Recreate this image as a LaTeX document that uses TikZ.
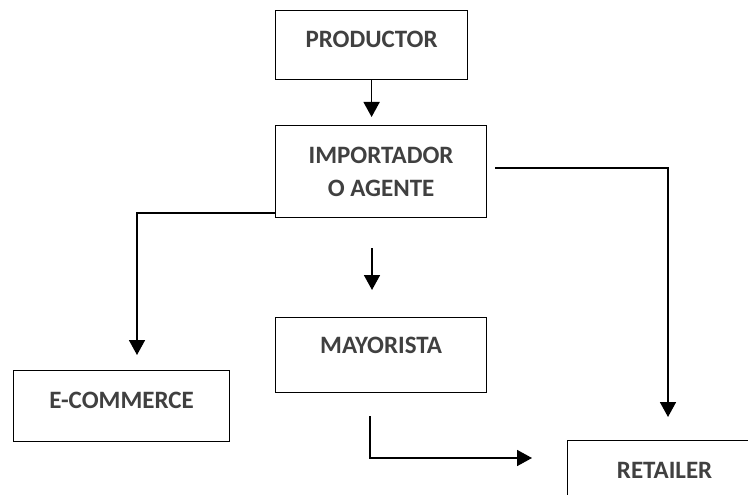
\documentclass[tikz,border=0pt]{standalone}
\usepackage{fontspec}
\setmainfont{Carlito}
\usetikzlibrary{arrows.meta}
\tikzset{
  box/.style={draw, line width=1.2pt, inner sep=0pt, anchor=north west,
    text=black!75, align=center, font=\bfseries\fontsize{25}{33}\selectfont},
  flow/.style={line width=1.7pt, -{Triangle[width=16pt,length=15pt]}}
}
\begin{document}
\begin{tikzpicture}[x=1pt,y=-1pt]
 \useasboundingbox (0,0) rectangle (748,495);
 \clip (0,0) rectangle (748,495);
 \node[box, minimum width=192pt, text height=37pt, text depth=32pt] (prod) at (275,10) {PRODUCTOR};
 \node[box, minimum width=211pt, minimum height=92pt] (imp) at (275,125) {IMPORTADOR\\O AGENTE};
 \node[box, minimum width=211pt, text height=36pt, text depth=39pt] (may) at (275,317) {MAYORISTA};
 \node[box, minimum width=216pt, text height=37.5pt, text depth=33.5pt] (ecom) at (13,370) {E-COMMERCE};
 \node[box, minimum width=194pt, text height=37.5pt, text depth=40pt] (ret) at (567,440) {RETAILER};
 \coordinate (m1) at (372,248);
 \coordinate (m2) at (372,290);
 \coordinate (l0) at (275,213);
 \coordinate (l1) at (137,355);
 \coordinate (r0) at (495,168);
 \coordinate (r1) at (668,417);
 \coordinate (b0) at (370,416);
 \coordinate (b1) at (532,458);
 \draw[flow, shorten >=8pt] (prod.south) -- (prod.south |- imp.north);
 \draw[flow] (m1) -- (m2);
 \draw[flow] (l0) -| (l1);
 \draw[flow] (r0) -| (r1);
 \draw[flow] (b0) |- (b1);
\end{tikzpicture}
\end{document}
